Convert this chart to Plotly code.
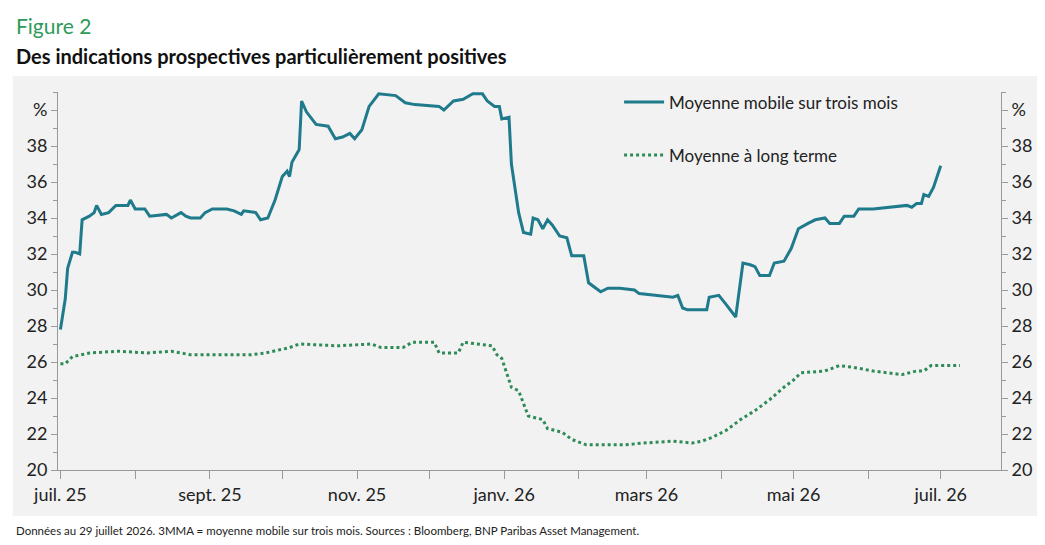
import pandas as pd
import plotly.graph_objects as go

start = pd.Timestamp("2025-07-01")

# 3MMA, days since 1 Jul 2025 / %
mma_days = [0, 2, 3, 5, 6, 8, 9, 12, 14, 15, 17, 20, 23, 28, 29, 31, 35, 37, 44, 46, 50, 52, 54, 58, 60,
            63, 69, 72, 75, 76, 81, 83, 86, 89, 92, 94, 95, 96, 99, 100, 102, 106, 111, 114, 117, 120,
            122, 125, 128, 132, 139, 143, 147, 157, 159, 163, 167, 171, 175, 177, 180, 182, 183, 186,
            187, 190, 192, 195, 196, 198, 200, 202, 204, 207, 210, 212, 217, 219, 224, 227, 232, 238,
            240, 248, 254, 256, 258, 260, 268, 269, 273, 276, 280, 281, 283, 286, 288, 290, 294, 296,
            300, 303, 306, 310, 313, 317, 319, 323, 325, 329, 331, 337, 343, 351, 353, 355, 357, 358,
            360, 362, 365]
mma_vals = [27.8, 29.5, 31.2, 32.1, 32.1, 32.0, 33.9, 34.1, 34.3, 34.7, 34.2, 34.3, 34.7, 34.7, 35.0,
            34.5, 34.5, 34.1, 34.2, 34.0, 34.3, 34.1, 34.0, 34.0, 34.3, 34.5, 34.5, 34.4, 34.2, 34.4,
            34.3, 33.9, 34.0, 35.0, 36.3, 36.6, 36.3, 37.1, 37.8, 40.5, 39.9, 39.2, 39.1, 38.4, 38.5,
            38.7, 38.4, 38.9, 40.2, 40.9, 40.8, 40.4, 40.3, 40.2, 40.0, 40.5, 40.6, 40.9, 40.9, 40.5,
            40.2, 40.2, 39.5, 39.6, 37.0, 34.3, 33.2, 33.1, 34.0, 33.9, 33.4, 33.9, 33.6, 33.0, 32.9,
            31.9, 31.9, 30.4, 29.9, 30.1, 30.1, 30.0, 29.8, 29.7, 29.6, 29.7, 29.0, 28.9, 28.9, 29.6,
            29.7, 29.2, 28.5, 29.5, 31.5, 31.4, 31.3, 30.8, 30.8, 31.5, 31.6, 32.3, 33.4, 33.7, 33.9,
            34.0, 33.7, 33.7, 34.1, 34.1, 34.5, 34.5, 34.6, 34.7, 34.6, 34.8, 34.8, 35.3, 35.2, 35.7,
            36.9]

# long-term average
lt_days = [0, 2, 5, 12, 24, 36, 46, 54, 79, 85, 95, 99, 115, 129, 133, 142, 146, 155, 157, 165, 167,
           179, 181, 183, 187, 190, 194, 200, 202, 208, 212, 218, 234, 242, 254, 262, 266, 270, 276,
           282, 288, 294, 300, 304, 307, 317, 323, 329, 337, 349, 355, 358, 361, 373]
lt_vals = [25.9, 25.9, 26.3, 26.5, 26.6, 26.5, 26.6, 26.4, 26.4, 26.5, 26.8, 27.0, 26.9, 27.0, 26.8,
           26.8, 27.1, 27.1, 26.5, 26.5, 27.1, 26.9, 26.4, 26.2, 24.6, 24.4, 23.0, 22.8, 22.3, 22.1,
           21.7, 21.4, 21.4, 21.5, 21.6, 21.5, 21.6, 21.8, 22.2, 22.8, 23.3, 23.9, 24.6, 25.0, 25.4,
           25.5, 25.8, 25.7, 25.5, 25.3, 25.5, 25.5, 25.8, 25.8]

y_ticks = [20, 22, 24, 26, 28, 30, 32, 34, 36, 38, 40]
y_labels = ["20", "22", "24", "26", "28", "30", "32", "34", "36", "38", "%"]
x_ticks = ["2025-07-01", "2025-09-01", "2025-11-01", "2026-01-01", "2026-03-01", "2026-05-01", "2026-07-01"]
x_labels = ["juil. 25", "sept. 25", "nov. 25", "janv. 26", "mars 26", "mai 26", "juil. 26"]

teal = "#1f7a8c"
green = "#2e8b57"
font = "Lato"

fig = go.Figure()
fig.add_trace(go.Scatter(x=start + pd.to_timedelta(mma_days, unit="D"), y=mma_vals, mode="lines",
                         line=dict(color=teal, width=3), name="Moyenne mobile sur trois mois",
                         legendgroup="a"))
fig.add_trace(go.Scatter(x=start + pd.to_timedelta(lt_days, unit="D"), y=lt_vals, mode="lines",
                         line=dict(color=green, width=3, dash="dot"), name="Moyenne à long terme",
                         legendgroup="b"))
# invisible trace for the right axis
fig.add_trace(go.Scatter(x=[start], y=[20], yaxis="y2", showlegend=False, hoverinfo="skip",
                         mode="markers", marker=dict(opacity=0)))

axis_common = dict(range=[20, 41], tickvals=y_ticks, ticktext=y_labels, showgrid=False,
                   showline=True, linecolor="#999", ticks="outside", ticklen=6, tickcolor="#999",
                   minor=dict(dtick=1, ticks="outside", ticklen=4, tickcolor="#999"),
                   tickfont=dict(size=18, color="#222"), zeroline=False, automargin=False)

fig.update_layout(
    width=1045, height=545,
    margin=dict(l=50, r=52, t=84, b=83),
    paper_bgcolor="white", plot_bgcolor="#f2f2f2",
    font=dict(family=font, color="#222"),
    xaxis=dict(range=["2025-06-30", "2026-07-26"], tickvals=x_ticks, ticktext=x_labels,
               showgrid=False, showline=True, linecolor="#999", ticks="outside", ticklen=8,
               tickcolor="#999", tickfont=dict(size=18, color="#222"), automargin=False,
               minor=dict(tickvals=pd.date_range("2025-08-01", "2026-07-01", freq="2MS"),
                          ticks="outside", ticklen=8, tickcolor="#999")),
    yaxis=axis_common,
    yaxis2=dict(overlaying="y", side="right", **axis_common),
    legend=dict(x=0.595, y=1.02, xanchor="left", yanchor="top", bgcolor="rgba(0,0,0,0)",
                font=dict(size=17), tracegroupgap=28, itemwidth=40),
    shapes=[dict(type="rect", xref="paper", yref="paper", x0=-0.048, x1=1.05, y0=-0.122, y1=1.042,
                 fillcolor="#f2f2f2", line=dict(width=0), layer="below")],
    annotations=[
        dict(text="Figure 2", xref="paper", yref="paper", x=-0.047, y=1.175, xanchor="left",
             yanchor="middle", showarrow=False, font=dict(size=21, color="#2e9a5a")),
        dict(text="<b>Des indications prospectives particulièrement positives</b>", xref="paper",
             yref="paper", x=-0.047, y=1.095, xanchor="left", yanchor="middle", showarrow=False,
             font=dict(size=20, color="#111")),
        dict(text="Données au 29 juillet 2026. 3MMA = moyenne mobile sur trois mois. Sources : Bloomberg, "
                  "BNP Paribas Asset Management.", xref="paper", yref="paper", x=-0.047, y=-0.159,
             xanchor="left", yanchor="middle", showarrow=False, font=dict(size=11.5, color="#222")),
    ],
)

fig.write_html("out.html")
